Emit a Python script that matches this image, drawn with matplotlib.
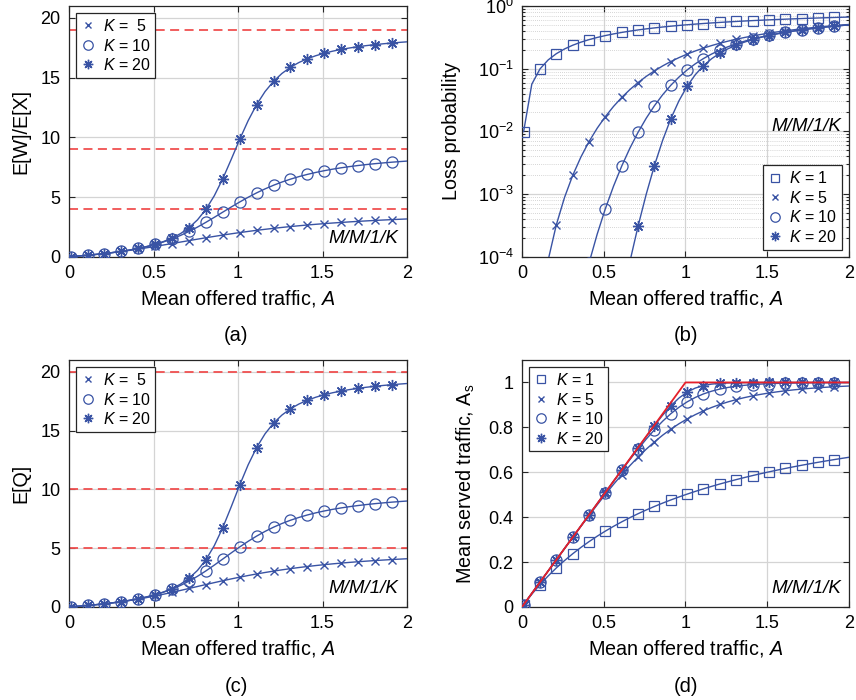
import numpy as np
import matplotlib
matplotlib.use("Agg")
import matplotlib.pyplot as plt
from matplotlib.ticker import FuncFormatter, LogLocator, NullFormatter

plt.rcParams['font.family'] = ['Liberation Sans', 'DejaVu Sans']
plt.rcParams['mathtext.fontset'] = 'custom'
plt.rcParams['mathtext.rm'] = 'Liberation Sans'
plt.rcParams['mathtext.it'] = 'Liberation Sans:italic'
plt.rcParams['mathtext.bf'] = 'Liberation Sans:bold'

# ---------------- data ----------------
A = [0, 0.01, 0.06, 0.11, 0.16, 0.21, 0.26, 0.31, 0.36, 0.41, 0.46, 0.51, 0.56, 0.61,
     0.66, 0.71, 0.76, 0.81, 0.86, 0.91, 0.96, 1.01, 1.06, 1.11, 1.16, 1.21, 1.26, 1.31,
     1.36, 1.41, 1.46, 1.51, 1.56, 1.61, 1.66, 1.71, 1.76, 1.81, 1.86, 1.91, 1.96, 2.0]

# mean waiting time normalised, E[W]/E[X]
W5 = [0, 0.0101, 0.0638, 0.1236, 0.1906, 0.2638, 0.3454, 0.4351, 0.5320, 0.6364, 0.7468,
      0.8621, 0.9813, 1.1029, 1.2254, 1.3476, 1.4683, 1.5865, 1.7014, 1.8121, 1.9183,
      2.0195, 2.1165, 2.2078, 2.2941, 2.3754, 2.4519, 2.5237, 2.5911, 2.6543, 2.7136,
      2.7691, 2.8212, 2.8700, 2.9157, 2.9586, 2.9989, 3.0368, 3.0724, 3.1059, 3.1374, 3.1613]
W10 = [0, 0.0101, 0.0638, 0.1236, 0.1905, 0.2658, 0.3514, 0.4493, 0.5623, 0.6935, 0.8478,
       1.0288, 1.2423, 1.4922, 1.7818, 2.1119, 2.4796, 2.8792, 3.3010, 3.7333, 4.1642,
       4.5821, 4.9780, 5.3456, 5.6813, 5.9841, 6.2545, 6.4945, 6.7066, 6.8937, 7.0586,
       7.2042, 7.3328, 7.4469, 7.5482, 7.6385, 7.7194, 7.7920, 7.8574, 7.9166, 7.9703, 8.0098]
W20 = [0, 0.0101, 0.0638, 0.1236, 0.1905, 0.2658, 0.3514, 0.4493, 0.5625, 0.6949, 0.8519,
       1.0408, 1.2725, 1.5630, 1.9363, 2.4271, 3.0837, 3.9631, 5.1129, 6.5362, 8.1575,
       9.8306, 11.3948, 12.7410, 13.8334, 14.6900, 15.3525, 15.8649, 16.2650, 16.5817,
       16.8364, 17.0445, 17.2171, 17.3621, 17.4856, 17.5920, 17.6844, 17.7655, 17.8373,
       17.9011, 17.9583, 18.0000]
W_limits = [4, 9, 19]

# loss probability
P1 = [0, 0.009901, 0.056604, 0.099099, 0.137931, 0.173554, 0.206349, 0.236641, 0.264706,
      0.290780, 0.315068, 0.337748, 0.358974, 0.378882, 0.397590, 0.415205, 0.431818,
      0.447514, 0.462366, 0.476440, 0.489796, 0.502488, 0.514563, 0.526066, 0.537037,
      0.547511, 0.557522, 0.567100, 0.576271, 0.585062, 0.593496, 0.601594, 0.609375,
      0.616858, 0.624060, 0.630996, 0.637681, 0.644128, 0.650350, 0.656357, 0.662162, 0.666667]
P5 = [0, 9.9e-11, 7.31e-7, 1.433e-5, 8.81e-5, 3.226e-4, 8.79e-4, 1.977e-3, 3.878e-3,
      6.868e-3, 0.011228, 0.017210, 0.025003, 0.034728, 0.046415, 0.060008, 0.075377,
      0.092325, 0.11061, 0.12997, 0.15013, 0.17084, 0.191852, 0.212952, 0.233958, 0.254714,
      0.275098, 0.295015, 0.314392, 0.333179, 0.351344, 0.368866, 0.385738, 0.401962,
      0.417545, 0.432504, 0.446852, 0.460614, 0.473808, 0.486459, 0.498591, 0.507937]
P10 = [0, 9.9e-21, 5.68e-13, 2.31e-10, 9.24e-9, 1.318e-7, 1.045e-6, 5.655e-6, 2.340e-5,
       7.92e-5, 2.291e-4, 5.836e-4, 1.3368e-3, 2.7942e-3, 5.388e-3, 9.663e-3, 0.016222,
       0.025624, 0.038265, 0.054285, 0.073511, 0.095499, 0.119616, 0.145154, 0.171432,
       0.197860, 0.223974, 0.249434, 0.274014, 0.297575, 0.320049, 0.341417, 0.361690,
       0.380904, 0.399103, 0.416344, 0.432680, 0.448170, 0.462868, 0.476826, 0.490095, 0.500244]
P20 = [0, 9.9e-41, 3.44e-25, 5.99e-20, 1.016e-16, 2.2e-14, 1.475e-12, 4.635e-11, 8.55e-10,
       1.063e-8, 9.72e-8, 6.944e-7, 4.048e-6, 1.9846e-5, 8.364e-5, 3.0752e-4, 9.950e-4,
       2.8424e-3, 7.1578e-3, 0.015833, 0.030712, 0.052506, 0.080193, 0.111566, 0.144324,
       0.176782, 0.207972, 0.237459, 0.265122, 0.290994, 0.315180, 0.337807, 0.359006,
       0.378899, 0.397599, 0.41521, 0.431821, 0.447516, 0.462367, 0.47644, 0.489796, 0.5]

# mean number in system E[Q]
Q5 = [0, 0.0101, 0.0638, 0.1236, 0.1904, 0.2653, 0.3495, 0.4440, 0.5494, 0.6663, 0.7945,
      0.9333, 1.0818, 1.2382, 1.4006, 1.5668, 1.7345, 1.9016, 2.0662, 2.2264, 2.3810,
      2.5287, 2.6697, 2.8024, 2.9271, 3.0439, 3.1528, 3.2542, 3.3485, 3.4359, 3.5169,
      3.5920, 3.6616, 3.7262, 3.7860, 3.8415, 3.8931, 3.9411, 3.9857, 4.0273, 4.0661, 4.0952]
Q10 = [0, 0.0101, 0.0638, 0.1236, 0.1905, 0.2658, 0.3514, 0.4493, 0.5624, 0.6943, 0.8498,
       1.0341, 1.2540, 1.5160, 1.8261, 2.1881, 2.6016, 3.0616, 3.5573, 4.0735, 4.5932,
       5.0995, 5.5787, 6.0212, 6.4217, 6.7787, 7.0934, 7.3689, 7.6090, 7.8180, 8.0000,
       8.1587, 8.2975, 8.4194, 8.5267, 8.6217, 8.7062, 8.7816, 8.8492, 8.9100, 8.9650, 9.0054]
Q20 = [0, 0.0101, 0.0638, 0.1236, 0.1905, 0.2658, 0.3514, 0.4493, 0.5625, 0.6949, 0.8519,
       1.0408, 1.2726, 1.5634, 1.9378, 2.4325, 3.1005, 4.0087, 5.2195, 6.7493, 8.5212,
       10.3646, 12.0849, 13.5509, 14.7234, 15.6287, 16.3190, 16.8468, 17.2552, 17.5764,
       17.8335, 18.0429, 18.2161, 18.3616, 18.4854, 18.5918, 18.6844, 18.7655, 18.8373,
       18.9011, 18.9583, 19.0000]
Q_limits = [5, 10, 20]

# mean served traffic A_s
S1 = P1
S5 = [0, 0.01, 0.06, 0.11, 0.16, 0.2099, 0.2598, 0.3094, 0.3586, 0.4072, 0.4548, 0.5012,
      0.5460, 0.5888, 0.6294, 0.6674, 0.7027, 0.7352, 0.7649, 0.7917, 0.8159, 0.8375,
      0.8566, 0.8736, 0.8886, 0.9018, 0.9134, 0.9235, 0.9324, 0.9402, 0.9470, 0.9530,
      0.9582, 0.9628, 0.9669, 0.9704, 0.9735, 0.9763, 0.9787, 0.9809, 0.9828, 0.9841]
S10 = [0, 0.01, 0.06, 0.11, 0.16, 0.21, 0.26, 0.31, 0.36, 0.41, 0.4599, 0.5097, 0.5593,
       0.6083, 0.6564, 0.7031, 0.7477, 0.7892, 0.8271, 0.8606, 0.8894, 0.9135, 0.9332,
       0.9489, 0.9611, 0.9706, 0.9778, 0.9832, 0.9873, 0.9904, 0.9927, 0.9945, 0.9958,
       0.9967, 0.9975, 0.9981, 0.9985, 0.9988, 0.9991, 0.9993, 0.9994, 0.9995]
S20 = [0, 0.01, 0.06, 0.11, 0.16, 0.21, 0.26, 0.31, 0.36, 0.41, 0.46, 0.51, 0.56, 0.61,
       0.6599, 0.7098, 0.7592, 0.8077, 0.8538, 0.8956, 0.9305, 0.9570, 0.9750, 0.9862,
       0.9926, 0.9961, 0.9980, 0.9989, 0.9994, 0.9997, 0.9998, 0.9999, 1.0, 1.0, 1.0, 1.0,
       1.0, 1.0, 1.0, 1.0, 1.0, 1.0]
S_bound_x = [0, 1, 2]
S_bound_y = [0, 1, 1]

# ---------------- style ----------------
BLUE = '#3953a4'
RED_D = '#f05050'
RED = '#e5202a'
GRID = '#d4d4d4'
MK = slice(1, 40, 2)
TICK_FS = 13
LAB_FS = 14.2
LEG_FS = 11.5

markers = {
    1: dict(marker='s', ms=6.5, mfc='none', mew=0.9),
    5: dict(marker='x', ms=5.5, mew=1.0),
    10: dict(marker='o', ms=8, mfc='none', mew=0.9),
    20: dict(marker=(8, 2, 0), ms=8, mew=1.0),
}

fig = plt.figure(figsize=(8.56, 7.0), dpi=100)
axa = fig.add_axes([0.0806, 0.6333, 0.3949, 0.3581])
axb = fig.add_axes([0.6098, 0.6333, 0.3820, 0.3581])
axc = fig.add_axes([0.0806, 0.1330, 0.3949, 0.3527])
axd = fig.add_axes([0.6098, 0.1330, 0.3820, 0.3527])

fmt = FuncFormatter(lambda v, p: ('%g' % v))


def style(ax):
    ax.set_xlim(0, 2)
    ax.set_xticks([0, 0.5, 1, 1.5, 2])
    ax.xaxis.set_major_formatter(fmt)
    ax.tick_params(which='both', direction='in', top=True, right=True,
                   labelsize=TICK_FS, color='#262626', width=0.8, length=4, pad=6)
    ax.tick_params(which='minor', length=2)
    ax.grid(True, which='major', color=GRID, lw=0.9, zorder=0)
    ax.set_axisbelow(True)
    for s in ax.spines.values():
        s.set_color('#262626')
        s.set_linewidth(0.9)
    ax.set_xlabel('Mean offered traffic, $A$', fontsize=LAB_FS, labelpad=4)


def series(ax, y, K, label):
    ax.plot(A, y, color=BLUE, lw=1.0, zorder=3)
    ax.plot(A[MK], y[MK], ls='none', color=BLUE, label=label, zorder=4, **markers[K])


def legend(ax, loc):
    leg = ax.legend(loc=loc, fontsize=LEG_FS, frameon=True, fancybox=False,
                    handlelength=0.9, handletextpad=0.45, borderpad=0.3,
                    labelspacing=0.22, borderaxespad=0.45, framealpha=1,
                    markerscale=0.85)
    leg.get_frame().set_edgecolor('#262626')
    leg.get_frame().set_linewidth(0.9)
    return leg


def tag(ax, y=0.04, va='bottom'):
    ax.text(0.975, y, 'M/M/1/K', transform=ax.transAxes, ha='right', va=va,
            fontsize=13.5, style='italic')


# (a)
style(axa)
axa.set_ylim(0, 21)
axa.set_yticks([0, 5, 10, 15, 20])
for lv in W_limits:
    axa.axhline(lv, color=RED_D, lw=1.3, ls=(0, (5, 3)), zorder=2)
series(axa, W5, 5, r'$K$ =  5')
series(axa, W10, 10, r'$K$ = 10')
series(axa, W20, 20, r'$K$ = 20')
axa.set_ylabel('E[W]/E[X]', fontsize=LAB_FS, labelpad=7)
legend(axa, 'upper left')
tag(axa)

# (b)
style(axb)
axb.set_yscale('log', nonpositive='mask')
axb.set_ylim(1e-4, 1)
axb.yaxis.set_major_locator(LogLocator(base=10, numticks=10))
axb.yaxis.set_minor_locator(LogLocator(base=10, subs=np.arange(2, 10), numticks=20))
axb.yaxis.set_minor_formatter(NullFormatter())
axb.grid(True, which='minor', axis='y', color='#c8c8c8', lw=0.6, ls=(0, (1, 1.5)), zorder=0)
series(axb, P1, 1, r'$K$ = 1')
series(axb, P5, 5, r'$K$ = 5')
series(axb, P10, 10, r'$K$ = 10')
series(axb, P20, 20, r'$K$ = 20')
axb.set_ylabel('Loss probability', fontsize=LAB_FS, labelpad=12)
legend(axb, 'lower right')
tag(axb, y=0.52, va='center')

# (c)
style(axc)
axc.set_ylim(0, 21)
axc.set_yticks([0, 5, 10, 15, 20])
for lv in Q_limits:
    axc.axhline(lv, color=RED_D, lw=1.3, ls=(0, (5, 3)), zorder=2)
series(axc, Q5, 5, r'$K$ =  5')
series(axc, Q10, 10, r'$K$ = 10')
series(axc, Q20, 20, r'$K$ = 20')
axc.set_ylabel('E[Q]', fontsize=LAB_FS, labelpad=7)
legend(axc, 'upper left')
tag(axc)

# (d)
style(axd)
axd.set_ylim(0, 1.1)
axd.set_yticks([0, 0.2, 0.4, 0.6, 0.8, 1])
axd.yaxis.set_major_formatter(fmt)
series(axd, S1, 1, r'$K$ = 1')
series(axd, S5, 5, r'$K$ = 5')
series(axd, S10, 10, r'$K$ = 10')
series(axd, S20, 20, r'$K$ = 20')
axd.plot(S_bound_x, S_bound_y, color=RED, lw=1.3, zorder=5)
axd.set_ylabel(r'Mean served traffic, A$_\mathrm{s}$', fontsize=LAB_FS, labelpad=8)
legend(axd, 'upper left')
tag(axd)

for x, y, t in [(0.2757, 0.521, '(a)'), (0.801, 0.521, '(b)'),
                (0.2757, 0.020, '(c)'), (0.801, 0.020, '(d)')]:
    fig.text(x, y, t, ha='center', va='center', fontsize=14.5)

fig.savefig('out.png', dpi=100)
